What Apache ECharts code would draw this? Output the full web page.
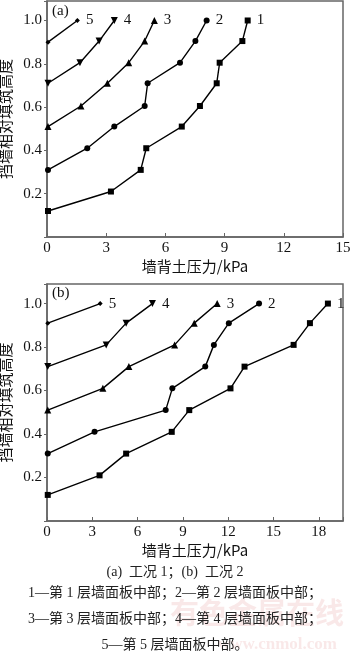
<!DOCTYPE html>
<html>
<head>
<meta charset="utf-8">
<script src="https://cdn.jsdelivr.net/npm/echarts@6/dist/echarts.min.js"></script>
<style>
  html, body { margin: 0; padding: 0; background: #fff; }
  #chart { width: 350px; height: 656px; }
</style>
</head>
<body>
<div id="chart"></div>
<script>
// Relative fill height (y) vs. earth pressure behind the wall (x, kPa)
// Case 1 (a)
const heightA1 = [0.12, 0.21, 0.31, 0.41, 0.51, 0.605, 0.71, 0.805, 0.905, 1.0];
const pressA1  = [0.05, 3.24, 4.75, 5.03, 6.83, 7.75, 8.60, 8.75, 9.90, 10.17];
const heightA2 = [0.31, 0.41, 0.51, 0.605, 0.71, 0.805, 0.905, 1.0];
const pressA2  = [0.05, 2.04, 3.41, 4.95, 5.10, 6.74, 7.52, 8.09];
const heightA3 = [0.51, 0.605, 0.71, 0.805, 0.905, 1.0];
const pressA3  = [0.05, 1.72, 3.06, 4.14, 4.95, 5.44];
const heightA4 = [0.71, 0.805, 0.905, 1.0];
const pressA4  = [0.05, 1.67, 2.64, 3.41];
const heightA5 = [0.90, 1.0];
const pressA5  = [0.05, 1.54];

// Case 2 (b)
const heightB1 = [0.12, 0.21, 0.31, 0.41, 0.51, 0.61, 0.71, 0.81, 0.91, 1.0];
const pressB1  = [0.05, 3.48, 5.24, 8.26, 9.42, 12.15, 13.08, 16.33, 17.41, 18.6];
const heightB2 = [0.31, 0.41, 0.51, 0.61, 0.71, 0.81, 0.91, 1.0];
const pressB2  = [0.05, 3.15, 7.86, 8.30, 10.48, 11.05, 12.04, 14.04];
const heightB3 = [0.51, 0.61, 0.71, 0.81, 0.91, 1.0];
const pressB3  = [0.05, 3.70, 5.42, 8.45, 9.75, 11.27];
const heightB4 = [0.71, 0.81, 0.91, 1.0];
const pressB4  = [0.05, 3.92, 5.24, 6.98];
const heightB5 = [0.91, 1.0];
const pressB5  = [0.05, 3.52];

const seriesNames = ['1', '2', '3', '4', '5'];
const yTicks = [0.2, 0.4, 0.6, 0.8, 1.0];
const xTicksA = [0, 3, 6, 9, 12, 15];
const xTicksB = [0, 3, 6, 9, 12, 15, 18];

const yAxisName = '挡墙相对填筑高度';
const xAxisName = '墙背土压力/kPa';
const captionLines = [
  '(a)  工况 1；(b)  工况 2',
  '1—第 1 层墙面板中部；2—第 2 层墙面板中部；',
  '3—第 3 层墙面板中部；4—第 4 层墙面板中部；',
  '5—第 5 层墙面板中部。'
];

const SERIF = "'Liberation Serif', 'Noto Sans CJK SC', serif";
const CJK = "'Noto Sans CJK SC', 'Liberation Serif', sans-serif";
const AXIS_COLOR = '#666';

const markers = [
  { symbol: 'rect', size: 6, rotate: 0 },
  { symbol: 'circle', size: 6, rotate: 0 },
  { symbol: 'triangle', size: 7, rotate: 0 },
  { symbol: 'triangle', size: 7, rotate: 180 },
  { symbol: 'diamond', size: 5, rotate: 0 }
];

function pairs(xs, ys, name) {
  return xs.map((x, i) => {
    const item = { value: [x, ys[i]] };
    if (i === xs.length - 1) {
      item.label = {
        show: true, position: 'right', distance: 6, formatter: name,
        fontFamily: SERIF, fontSize: 15, color: '#111'
      };
    }
    return item;
  });
}

function makeSeries(idx, list) {
  return list.map((d, k) => ({
    type: 'line',
    xAxisIndex: idx, yAxisIndex: idx,
    data: pairs(d[0], d[1], seriesNames[k]),
    symbol: markers[k].symbol,
    symbolSize: markers[k].size,
    symbolRotate: markers[k].rotate,
    showSymbol: true,
    lineStyle: { color: '#000', width: 1.4 },
    itemStyle: { color: '#000' },
    label: { show: false },
    animation: false,
    z: 3
  }));
}

function xAxis(grid, max, ticks) {
  return {
    type: 'value', gridIndex: grid, min: 0, max: max, interval: 3,
    name: xAxisName, nameLocation: 'middle', nameGap: 22,
    nameTextStyle: { fontFamily: CJK, fontSize: 15, color: '#111' },
    axisLine: { show: true, lineStyle: { color: AXIS_COLOR, width: 1.5 } },
    axisTick: { show: true, inside: true, length: 4, lineStyle: { color: AXIS_COLOR } },
    axisLabel: {
      fontFamily: SERIF, fontSize: 15, color: '#111', margin: 4,
      showMaxLabel: true, hideOverlap: false,
      formatter: v => (ticks.indexOf(v) >= 0 ? String(v) : '')
    },
    splitLine: { show: false }
  };
}

function yAxis(grid) {
  return {
    type: 'value', gridIndex: grid, min: 0, max: 1.09, interval: 0.2,
    name: yAxisName, nameLocation: 'middle', nameGap: 31, nameRotate: 90,
    nameTextStyle: { fontFamily: CJK, fontSize: 15, color: '#111' },
    axisLine: { show: true, lineStyle: { color: AXIS_COLOR, width: 1.5 } },
    axisTick: { show: true, inside: false, length: 3, lineStyle: { color: AXIS_COLOR } },
    axisLabel: {
      fontFamily: SERIF, fontSize: 15, color: '#111', margin: 5,
      formatter: v => {
        const hit = yTicks.find(t => Math.abs(t - v) < 1e-6);
        return hit !== undefined ? hit.toFixed(1) : '';
      }
    },
    splitLine: { show: false }
  };
}

const chart = echarts.init(document.getElementById('chart'), null, { renderer: 'canvas' });

const gridBase = {
  left: 47, width: 296, show: true, borderColor: AXIS_COLOR, borderWidth: 1.5,
  containLabel: false, outerBoundsMode: 'none'
};

const option = {
  backgroundColor: '#fff',
  animation: false,
  grid: [
    Object.assign({}, gridBase, { top: 1, height: 236 }),
    Object.assign({}, gridBase, { top: 284, height: 237 })
  ],
  xAxis: [xAxis(0, 15, xTicksA), xAxis(1, 19.6, xTicksB)],
  yAxis: [yAxis(0), yAxis(1)],
  series: [
    ...makeSeries(0, [[pressA1, heightA1], [pressA2, heightA2], [pressA3, heightA3], [pressA4, heightA4], [pressA5, heightA5]]),
    ...makeSeries(1, [[pressB1, heightB1], [pressB2, heightB2], [pressB3, heightB3], [pressB4, heightB4], [pressB5, heightB5]])
  ],
  graphic: [
    { type: 'text', left: 52, top: 4, style: { text: '(a)', font: "15px 'Liberation Serif'", fill: '#111' } },
    { type: 'text', left: 52, top: 286, style: { text: '(b)', font: "15px 'Liberation Serif'", fill: '#111' } },
    // faint site watermark
    { type: 'text', left: 170, top: 598, z: 0, style: { text: '有色金属在线', font: "bold 29px 'Noto Sans CJK SC'", fill: 'rgba(210,90,90,0.14)' } },
    { type: 'text', right: 13, top: 636, z: 0, style: { text: 'www.cnmol.com', font: "bold 17px 'Liberation Serif'", fill: 'rgba(210,90,90,0.14)' } },
    ...captionLines.map((t, i) => ({
      type: 'text', left: 'center', top: [565, 586, 612, 638][i], z: 5,
      style: { text: t, font: "14px 'Liberation Serif', 'Noto Sans CJK SC'", fill: '#222' }
    }))
  ]
};

chart.setOption(option);
</script>
</body>
</html>
